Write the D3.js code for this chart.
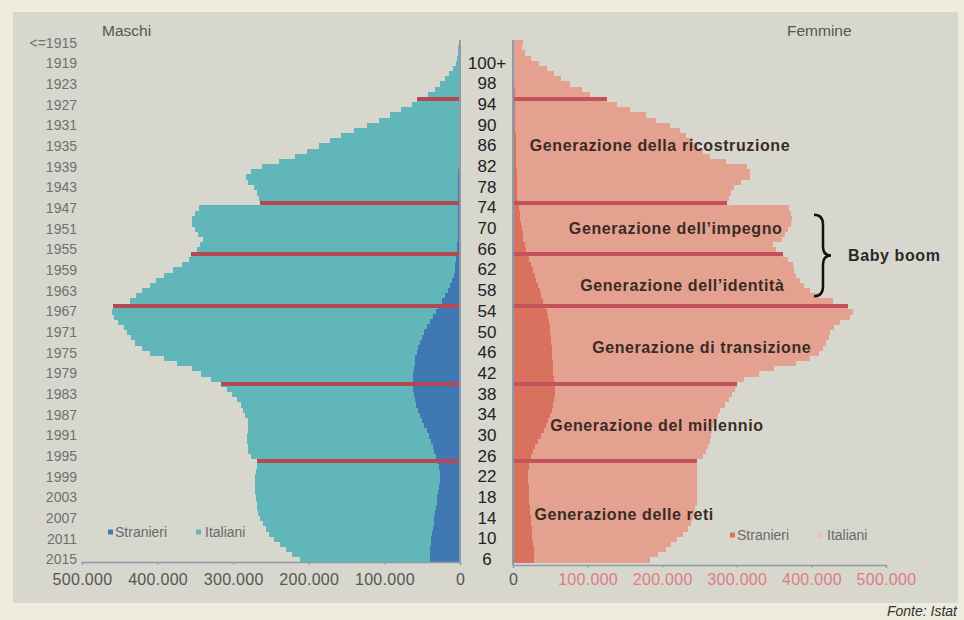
<!DOCTYPE html>
<html>
<head>
<meta charset="utf-8">
<script src="https://cdn.jsdelivr.net/npm/d3@7"></script>
<style>
  body { margin: 0; background: #ecebdc; }
  svg { display: block; font-family: "Liberation Sans", Arial, sans-serif; }
</style>
</head>
<body>
<script>
// popolazione residente al 1 gennaio 2016, valori in migliaia, indice = età (0..100+)
var maschiTotale = [
  212,222,230,238,246,252,256,261,265,267,
  268,269,270,271,271,271,271,270,268,268,
  276,280,281,282,282,281,280,281,284,287,
  290,295,301,308,316,330,342,355,375,392,
  410,420,430,435,440,445,452,458,460,459,
  437,428,420,410,402,392,380,368,358,356,
  348,344,340,346,350,354,355,350,345,265,
  266,268,272,280,283,276,262,240,218,202,
  187,172,157,140,123,107,92,78,64,57,
  42,33,26,20,14,9,5,4,3,2,
  1
];
var maschiStranieri = [
  40,40,40,39,38,37,36,35,34,33,
  32,31,30,29,28,27,27,27,28,30,
  32,34,36,38,41,44,47,50,53,56,
  58,60,61,62,62,62,62,61,60,59,
  57,55,53,50,47,44,40,36,32,28,
  24,20,16,13,10,8,7,6,5,5,
  4,4,3,3,3,3,2,2,2,2,
  2,2,2,2,2,2,1,1,1,1,
  1,1,1,1,1,1,1,1,1,1,
  1,1,1,1,1,1,1,1,1,1,
  0
];
var femmineTotale = [
  184,194,205,212,220,228,234,238,241,242,
  244,246,247,247,247,247,247,247,247,247,
  255,259,262,264,266,267,268,272,275,278,
  284,290,293,298,300,310,330,350,380,398,
  410,416,420,423,425,430,438,452,456,449,
  429,410,398,390,385,380,377,375,368,362,
  352,349,360,364,368,373,374,372,370,287,
  290,292,296,305,318,318,314,285,264,255,
  245,241,232,224,210,192,178,157,140,126,
  103,92,76,65,55,46,35,24,16,12,
  13
];
var femmineStranieri = [
  28,28,28,27,26,25,25,24,24,23,
  23,22,22,21,21,20,20,20,21,22,
  24,27,30,33,37,41,44,47,50,52,
  54,55,56,56,56,55,54,53,53,52,
  52,52,51,51,50,49,48,47,45,43,
  40,38,36,33,31,29,27,24,22,20,
  18,16,14,13,12,11,10,9,8,7,
  6,5,5,5,5,5,4,4,4,4,
  4,4,4,3,3,3,3,3,3,3,
  3,3,2,2,2,2,2,2,2,2,
  2
];
// età di confine tra le generazioni (righe evidenziate in rosso)
var etaConfine = [89, 69, 59, 49, 34, 19];

var anniNascita = ["<=1915","1919","1923","1927","1931","1935","1939","1943","1947","1951","1955",
  "1959","1963","1967","1971","1975","1979","1983","1987","1991","1995","1999","2003","2007","2011","2015"];
var etichetteEta = ["100+","98","94","90","86","82","78","74","70","66","62","58","54",
  "50","46","42","38","34","30","26","22","18","14","10","6"];
var tickValori = [0, 100, 200, 300, 400, 500];

var generazioni = [
  { testo: "Generazione della ricostruzione", eta: 80, val: 197 },
  { testo: "Generazione dell\u2019impegno", eta: 64, val: 218 },
  { testo: "Generazione dell\u2019identità", eta: 53, val: 227 },
  { testo: "Generazione di transizione", eta: 41, val: 253 },
  { testo: "Generazione del millennio", eta: 26, val: 193 },
  { testo: "Generazione delle reti", eta: 8.6, val: 149 }
];

var w = 964, h = 620;

var svg = d3.select("body").append("svg")
  .attr("width", w)
  .attr("height", h);

// pannello grigio
svg.append("rect")
  .attr("x", 13).attr("y", 12)
  .attr("width", 945).attr("height", 591)
  .attr("fill", "#d7d7ce");

var eta = d3.range(100, -1, -1);

var yScale = d3.scaleBand()
  .domain(eta)
  .range([40, 562]);

var xL = d3.scaleLinear().domain([0, 500]).range([460, 82]);
var xR = d3.scaleLinear().domain([0, 500]).range([513, 886]);

var bh = yScale.bandwidth();
function yMid(a) { return yScale(Math.round(a)) + bh / 2 + (Math.round(a) - a) * bh; }

// maschi
var gm = svg.append("g").attr("shape-rendering", "crispEdges");
gm.selectAll("rect.ita")
  .data(eta)
  .enter().append("rect")
  .attr("x", function(a) { return xL(maschiTotale[a]); })
  .attr("y", function(a) { return yScale(a); })
  .attr("width", function(a) { return xL(maschiStranieri[a]) - xL(maschiTotale[a]); })
  .attr("height", bh + 0.6)
  .attr("fill", "#61b6b9");
gm.selectAll("rect.str")
  .data(eta)
  .enter().append("rect")
  .attr("x", function(a) { return xL(maschiStranieri[a]); })
  .attr("y", function(a) { return yScale(a); })
  .attr("width", function(a) { return xL(0) - xL(maschiStranieri[a]); })
  .attr("height", bh + 0.6)
  .attr("fill", "#3f78b3");
gm.selectAll("rect.conf")
  .data(etaConfine)
  .enter().append("rect")
  .attr("x", function(a) { return xL(maschiTotale[a]); })
  .attr("y", function(a) { return yScale(a) + bh / 2 - 2; })
  .attr("width", function(a) { return xL(0) - xL(maschiTotale[a]); })
  .attr("height", 4)
  .attr("fill", "#b34a53");

// femmine
var gf = svg.append("g").attr("shape-rendering", "crispEdges");
gf.selectAll("rect.ita")
  .data(eta)
  .enter().append("rect")
  .attr("x", function(a) { return xR(femmineStranieri[a]); })
  .attr("y", function(a) { return yScale(a); })
  .attr("width", function(a) { return xR(femmineTotale[a]) - xR(femmineStranieri[a]); })
  .attr("height", bh + 0.6)
  .attr("fill", "#e4a190");
gf.selectAll("rect.str")
  .data(eta)
  .enter().append("rect")
  .attr("x", xR(0))
  .attr("y", function(a) { return yScale(a); })
  .attr("width", function(a) { return xR(femmineStranieri[a]) - xR(0); })
  .attr("height", bh + 0.6)
  .attr("fill", "#d8725e");
gf.selectAll("rect.conf")
  .data(etaConfine)
  .enter().append("rect")
  .attr("x", xR(0))
  .attr("y", function(a) { return yScale(a) + bh / 2 - 2; })
  .attr("width", function(a) { return xR(femmineTotale[a]) - xR(0); })
  .attr("height", 4)
  .attr("fill", "#c5525a");

// assi verticali
svg.append("line").attr("x1", xL(0)).attr("x2", xL(0)).attr("y1", 40).attr("y2", 562)
  .attr("stroke", "#8e9ba6").attr("stroke-width", 2);
svg.append("line").attr("x1", xR(0)).attr("x2", xR(0)).attr("y1", 40).attr("y2", 565)
  .attr("stroke", "#8e9ba6").attr("stroke-width", 2);

// assi orizzontali
var fmt = function(d) { return d === 0 ? "0" : d3.format(",")(d * 1000).replace(/,/g, "."); };

var axL = svg.append("g")
  .attr("transform", "translate(0,562)")
  .call(d3.axisBottom(xL).tickValues(tickValori).tickFormat(fmt).tickSize(3).tickPadding(9));
axL.select(".domain").attr("stroke", "#8e9ba6").attr("stroke-width", 1.5);
axL.selectAll(".tick line").attr("stroke", "#8e9ba6");
axL.selectAll("text").attr("font-size", "16px").attr("letter-spacing", "0.3px")
  .attr("fill", "#555").attr("font-family", "Liberation Sans, Arial");

var axR = svg.append("g")
  .attr("transform", "translate(0,565)")
  .call(d3.axisBottom(xR).tickValues(tickValori).tickFormat(fmt).tickSize(3).tickPadding(6));
axR.select(".domain").attr("stroke", "#8e9ba6").attr("stroke-width", 1.5);
axR.selectAll(".tick line").attr("stroke", "#8e9ba6");
axR.selectAll("text").attr("font-size", "16px").attr("letter-spacing", "0.3px")
  .attr("font-family", "Liberation Sans, Arial")
  .attr("fill", function(d) { return d === 0 ? "#555" : "#e07c82"; });

// anni di nascita
svg.selectAll("text.anno")
  .data(anniNascita)
  .enter().append("text")
  .attr("class", "anno")
  .attr("x", 77)
  .attr("y", function(d, i) { return yMid(100 - 4 * i); })
  .attr("text-anchor", "end")
  .attr("dominant-baseline", "central")
  .attr("font-size", "14px")
  .attr("fill", "#707070")
  .text(function(d) { return d; });

// età al centro
svg.selectAll("text.eta")
  .data(etichetteEta)
  .enter().append("text")
  .attr("class", "eta")
  .attr("x", 487)
  .attr("y", function(d, i) { return yMid(96 - 4 * i); })
  .attr("text-anchor", "middle")
  .attr("dominant-baseline", "central")
  .attr("font-size", "17px")
  .attr("fill", "#222")
  .text(function(d) { return d; });

// titoli dei lati
svg.append("text").attr("x", 102).attr("y", 30).attr("dominant-baseline", "central")
  .attr("font-size", "15.5px").attr("fill", "#555").text("Maschi");
svg.append("text").attr("x", 787).attr("y", 30).attr("dominant-baseline", "central")
  .attr("font-size", "15.5px").attr("fill", "#555").text("Femmine");

// generazioni
svg.selectAll("text.gen")
  .data(generazioni)
  .enter().append("text")
  .attr("class", "gen")
  .attr("x", function(d) { return xR(d.val); })
  .attr("y", function(d) { return yMid(d.eta); })
  .attr("text-anchor", "middle")
  .attr("dominant-baseline", "central")
  .attr("font-size", "16px")
  .attr("letter-spacing", "0.6px")
  .attr("font-weight", "bold")
  .attr("fill", "#3a2b24")
  .text(function(d) { return d.testo; });

// parentesi baby boom
var y1 = yMid(69) + 12, y2 = yMid(49) - 10, ym = (y1 + y2) / 2, bx = 814;
svg.append("path")
  .attr("d", "M" + bx + "," + y1 + " Q" + (bx + 9) + "," + y1 + " " + (bx + 9) + "," + (y1 + 10) +
    " L" + (bx + 9) + "," + (ym - 9) + " Q" + (bx + 9) + "," + ym + " " + (bx + 17) + "," + ym +
    " Q" + (bx + 9) + "," + ym + " " + (bx + 9) + "," + (ym + 9) +
    " L" + (bx + 9) + "," + (y2 - 10) + " Q" + (bx + 9) + "," + y2 + " " + bx + "," + y2)
  .attr("fill", "none").attr("stroke", "#111").attr("stroke-width", 2.5);
svg.append("text").attr("x", 848).attr("y", ym).attr("dominant-baseline", "central")
  .attr("font-size", "16px").attr("letter-spacing", "0.6px").attr("font-weight", "bold")
  .attr("fill", "#2a2a2a").text("Baby boom");

// legende
function legenda(x, y, col1, col2) {
  var g = svg.append("g").attr("transform", "translate(" + x + "," + y + ")");
  g.append("rect").attr("x", 0).attr("y", -2.5).attr("width", 5).attr("height", 5).attr("fill", col1);
  g.append("text").attr("x", 7).attr("dominant-baseline", "central").attr("font-size", "14px")
    .attr("fill", "#6a6a6a").text("Stranieri");
  g.append("rect").attr("x", 88).attr("y", -2.5).attr("width", 5).attr("height", 5).attr("fill", col2);
  g.append("text").attr("x", 97).attr("dominant-baseline", "central").attr("font-size", "14px")
    .attr("fill", "#6a6a6a").text("Italiani");
}
legenda(108, 532, "#3f78b3", "#61b6b9");
legenda(730, 535, "#d8725e", "#ecc0b4");

svg.append("text").attr("x", 957).attr("y", 611).attr("text-anchor", "end")
  .attr("dominant-baseline", "central").attr("font-size", "14px").attr("font-style", "italic")
  .attr("fill", "#333").text("Fonte: Istat");
</script>
</body>
</html>
